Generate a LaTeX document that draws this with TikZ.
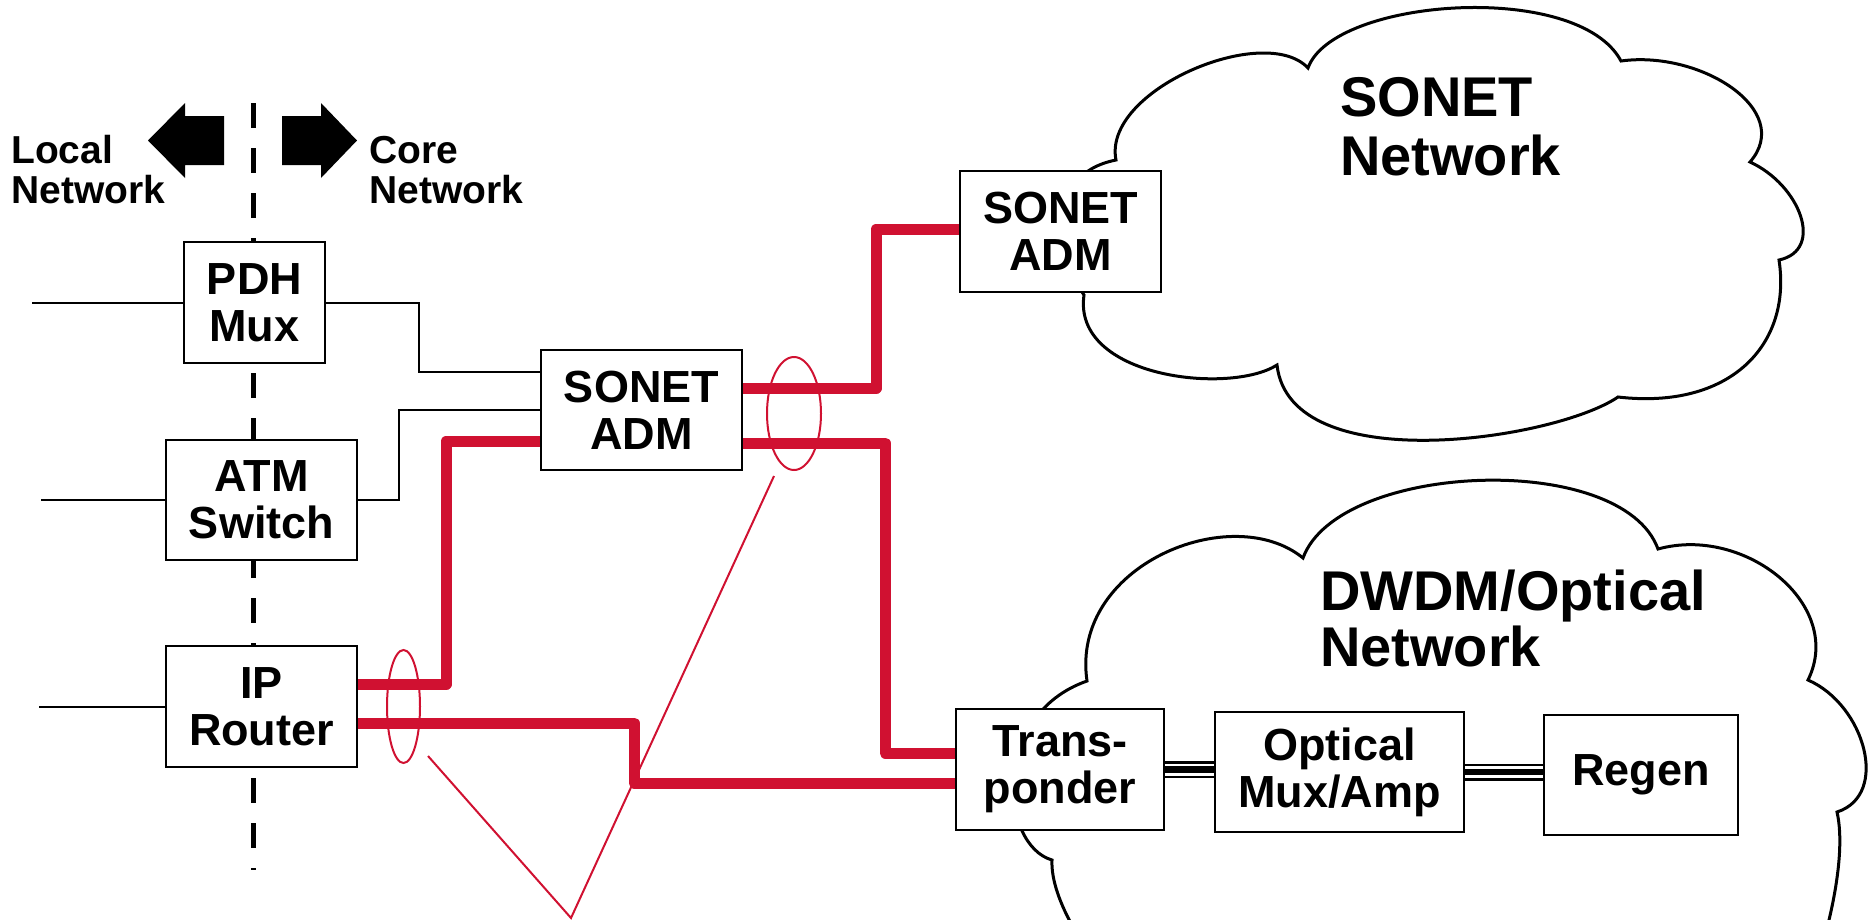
\documentclass[tikz,border=0pt]{standalone}
\usepackage{fontspec}
\setmainfont{Liberation Sans}
\definecolor{sigred}{RGB}{208,17,49}
\begin{document}
\begin{tikzpicture}[x=1pt,y=-1pt,
  box/.style={draw, line width=2.6pt, fill=white, inner sep=0pt, align=center,
    font=\bfseries\fontsize{45pt}{47pt}\selectfont},
  conn/.style={line width=2pt},
  fibre/.style={line width=11pt, draw=sigred, line join=round},
  thinred/.style={line width=2pt, draw=sigred},
  cloud/.style={line width=3pt, fill=white, draw=black},
  triple/.style={line width=17pt, draw=black,
    postaction={draw=white, line width=12pt},
    postaction={draw=black, line width=6.5pt}},
  sidelbl/.style={font=\bfseries\fontsize{39pt}{40pt}\selectfont, align=left, inner sep=0pt, anchor=base west},
  netlbl/.style={font=\bfseries\fontsize{56pt}{59pt}\selectfont, align=left, inner sep=0pt, anchor=base west}]
\useasboundingbox (0,0) rectangle (1875,919);
\clip (0,0) rectangle (1875,919);

% SONET cloud
\draw[cloud] (1116,160) .. controls (1102,90) and (1265,22) .. (1308,68)
 .. controls (1333,-2) and (1578,-20) .. (1621,61)
 .. controls (1700,50) and (1795,110) .. (1750,162)
 .. controls (1800,185) and (1825,250) .. (1779,260)
 .. controls (1792,345) and (1730,410) .. (1618,397)
 .. controls (1555,440) and (1290,480) .. (1277,365)
 .. controls (1230,395) and (1072,378) .. (1084,295)
 .. controls (1060,260) and (1040,175) .. (1116,160) -- cycle;

% DWDM cloud
\draw[cloud] (1087,681) .. controls (1070,565) and (1232,500) .. (1303,558)
 .. controls (1338,462) and (1622,450) .. (1658,549)
 .. controls (1745,525) and (1845,605) .. (1808,680)
 .. controls (1865,705) and (1890,795) .. (1837,812)
 .. controls (1848,860) and (1825,950) .. (1800,1010)
 -- (1120,990)
 .. controls (1090,960) and (1050,900) .. (1052,860)
 .. controls (1000,845) and (990,715) .. (1087,681) -- cycle;

% divider
\draw[line width=5pt, dash pattern=on 25pt off 20pt] (253.6,103) -- (253.6,870);

% block arrows
\fill (224,116) -- (185,116) -- (185,103) -- (148,140.5) -- (185,178) -- (185,165) -- (224,165) -- cycle;
\fill (282,116) -- (321,116) -- (321,103) -- (357,140.5) -- (321,178) -- (321,165) -- (282,165) -- cycle;

% labels (anchored at the baseline of the last line)
\node[sidelbl] (locallbl) at (11,203) {Local\\Network};
\node[sidelbl] (corelbl) at (369,203) {Core\\Network};
\node[netlbl] (sonetlbl) at (1340,175) {SONET\\Network};
\node[netlbl, font=\bfseries\fontsize{56pt}{56pt}\selectfont] (dwdmlbl) at (1320,666) {DWDM/Optical\\Network};

% boxes
\node[box, minimum width=141pt, minimum height=121pt] (pdh) at (254.5,302.5) {PDH\\Mux};
\node[box, minimum width=191pt, minimum height=120pt] (atm) at (261.5,500) {ATM\\Switch};
\node[box, minimum width=191pt, minimum height=121pt] (ip) at (261.5,706.5) {IP\\Router};
\node[box, minimum width=201pt, minimum height=120pt] (sonetc) at (641.5,410) {SONET\\ADM};
\node[box, minimum width=201pt, minimum height=121pt] (sonett) at (1060.5,231.5) {SONET\\ADM};
\node[box, minimum width=208pt, minimum height=121pt] (trans) at (1060,769.5) {Trans-\\ponder};
\node[box, minimum width=249pt, minimum height=120pt] (omux) at (1339.5,772) {Optical\\Mux/Amp};
\node[box, minimum width=194pt, minimum height=120pt] (regen) at (1641,775) {Regen};

% thin black connectors
\draw[conn] (pdh.west) -- ++(-151,0);
\draw[conn] (pdh.east) -| (419,372) -- ([yshift=38pt]sonetc.west);
\draw[conn] (atm.west) -- ++(-124,0);
\draw[conn] (atm.east) -| (399,410) -- (sonetc.west);
\draw[conn] (ip.west) -- ++(-126,0);

% red fibre connectors
\draw[fibre] ([yshift=22.5pt]ip.east) -- ++(88,0) |- ([yshift=-31pt]sonetc.west);
\draw[fibre] ([yshift=-16.5pt]ip.east) -- ++(276,0) |- ([yshift=-13.5pt]trans.west);
\draw[fibre] ([yshift=22pt]sonetc.east) -- ++(133,0) |- ([yshift=2.5pt]sonett.west);
\draw[fibre] ([yshift=-33pt]sonetc.east) -- ++(142,0) |- ([yshift=16.5pt]trans.west);

% optical links
\draw[triple] (trans.east) -- (trans.east -| omux.west);
\draw[triple] (omux.east) -- (omux.east -| regen.west);

% bundles
\draw[thinred] (403.5,706.5) ellipse [x radius=16.5, y radius=56.5];
\draw[thinred] (794,413.5) ellipse [x radius=27, y radius=56.5];
\coordinate (apex) at (571,918);
\coordinate (tipA) at (428,756);
\coordinate (tipB) at (774,476);
\draw[thinred] (tipA) -- (apex) -- (tipB);
\end{tikzpicture}
\end{document}
